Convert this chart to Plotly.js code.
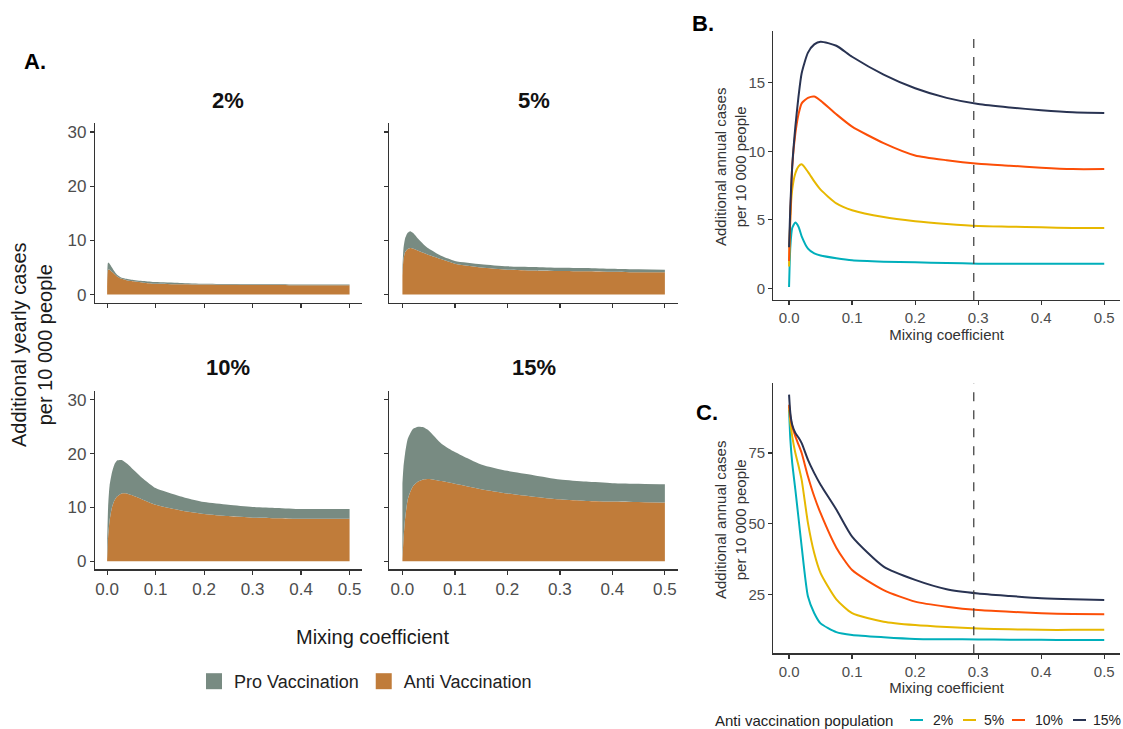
<!DOCTYPE html>
<html>
<head>
<meta charset="utf-8">
<script src="https://cdn.plot.ly/plotly-3.0.1.min.js"></script>
<style>html,body{margin:0;padding:0;background:#fff;}#chart{width:1123px;height:729px;}</style>
</head>
<body>
<div id="chart"></div>
<script>
// ---------- DATA ----------
const mixing = [0, 0.002, 0.005, 0.01, 0.015, 0.02, 0.03, 0.04, 0.05, 0.075, 0.1, 0.15, 0.2, 0.25, 0.3, 0.35, 0.4, 0.45, 0.5];

// Panel A: total (pro + anti) and anti-vaccination additional yearly cases
const facetLabels = ["2%", "5%", "10%", "15%"];
const totalA2  = [1.8, 5.9, 5.7, 5.0, 4.3, 3.7, 3.1, 2.9, 2.75, 2.5, 2.3, 2.15, 2.0, 1.95, 1.9, 1.9, 1.85, 1.85, 1.85];
const antiA2   = [1.5, 4.6, 4.6, 4.2, 3.8, 3.4, 2.9, 2.65, 2.5, 2.2, 2.0, 1.9, 1.85, 1.8, 1.75, 1.75, 1.7, 1.7, 1.7];
const totalA5  = [4.9, 8.5, 10.3, 11.4, 11.7, 11.4, 10.3, 9.3, 8.5, 7.1, 6.2, 5.6, 5.2, 5.1, 4.95, 4.9, 4.75, 4.65, 4.6];
const antiA5   = [3.5, 6.5, 7.8, 8.4, 8.6, 8.5, 8.1, 7.7, 7.3, 6.5, 5.7, 5.0, 4.6, 4.45, 4.35, 4.3, 4.2, 4.1, 4.1];
const totalA10 = [3.5, 10.0, 14.0, 16.5, 18.0, 18.7, 18.8, 18.2, 17.4, 15.3, 13.6, 12.1, 11.0, 10.5, 10.1, 9.9, 9.7, 9.7, 9.7];
const antiA10  = [0.3, 4.5, 7.5, 10.0, 11.3, 12.0, 12.6, 12.6, 12.3, 11.4, 10.5, 9.5, 8.8, 8.4, 8.1, 8.0, 7.9, 7.9, 7.9];
const totalA15 = [14.5, 17.5, 20.0, 22.7, 23.8, 24.6, 25.0, 24.9, 24.3, 21.8, 20.3, 18.0, 16.8, 16.0, 15.2, 14.8, 14.5, 14.4, 14.3];
const antiA15  = [0.5, 4.0, 7.8, 11.4, 12.9, 13.9, 14.8, 15.2, 15.3, 14.9, 14.4, 13.4, 12.6, 12.0, 11.5, 11.2, 11.1, 11.0, 10.9];
const groupNames = ["Pro Vaccination", "Anti Vaccination"];

// Panel B: additional annual cases per 10 000 people
const seriesNames = ["2%", "5%", "10%", "15%"];
const B2  = [0.1, 3.0, 4.4, 4.8, 4.5, 3.8, 2.9, 2.55, 2.4, 2.2, 2.05, 1.95, 1.9, 1.85, 1.8, 1.8, 1.8, 1.8, 1.8];
const B5  = [1.6, 5.2, 7.2, 8.4, 8.9, 9.05, 8.5, 7.8, 7.2, 6.2, 5.7, 5.2, 4.9, 4.7, 4.55, 4.5, 4.45, 4.4, 4.4];
const B10 = [2.0, 5.2, 8.9, 11.3, 12.7, 13.5, 13.9, 14.0, 13.7, 12.7, 11.8, 10.6, 9.7, 9.35, 9.1, 8.95, 8.8, 8.7, 8.7];
const B15 = [3.0, 6.0, 8.9, 11.8, 14.0, 15.7, 17.2, 17.8, 18.0, 17.7, 16.9, 15.6, 14.6, 13.9, 13.45, 13.2, 13.0, 12.85, 12.8];

// Panel C
const C2  = [90.4, 80.0, 71.5, 62.0, 52.0, 41.9, 24.2, 18.3, 14.7, 11.6, 10.6, 9.8, 9.2, 9.1, 9.0, 8.9, 8.9, 8.8, 8.8];
const C5  = [91.5, 86.0, 80.9, 75.0, 70.5, 65.5, 50.2, 39.5, 32.5, 23.2, 18.3, 15.3, 14.1, 13.4, 12.9, 12.6, 12.4, 12.4, 12.4];
const C10 = [92.1, 88.0, 84.5, 80.9, 78.0, 75.0, 66.7, 59.6, 53.7, 41.5, 33.6, 26.5, 22.4, 20.6, 19.4, 18.8, 18.3, 18.0, 17.9];
const C15 = [95.7, 89.2, 85.0, 82.1, 80.5, 78.5, 72.6, 67.9, 63.8, 55.0, 45.4, 34.8, 30.1, 26.8, 25.3, 24.4, 23.6, 23.2, 23.0];

const refMixing = 0.293;
const xTicks = [0, 0.1, 0.2, 0.3, 0.4, 0.5];
const yTicksA = [0, 10, 20, 30];
const yTicksB = [0, 5, 10, 15];
const yTicksC = [25, 50, 75];

// ---------- STYLE ----------
const W = 1123, H = 729;
const colPro = "#788B82", colAnti = "#C07C3A";
const lineCols = ["#00AFBB", "#E7B800", "#FC4E07", "#293352"];
const FONT = "Liberation Sans, Arial, sans-serif";
const px = v => v / W;
const py = v => 1 - v / H;

const facetDom = [
  {x: [px(95), px(361.7)], y: [py(302.7), py(122.7)]},
  {x: [px(389.3), px(678)], y: [py(302.7), py(122.7)]},
  {x: [px(95), px(361.7)], y: [py(569.3), py(390.7)]},
  {x: [px(389.3), px(678)], y: [py(569.3), py(390.7)]}
];
const totals = [totalA2, totalA5, totalA10, totalA15];
const antis = [antiA2, antiA5, antiA10, antiA15];

const traces = [];
const layout = {
  width: W, height: H,
  margin: {l: 0, r: 0, t: 0, b: 0},
  paper_bgcolor: "#fff", plot_bgcolor: "#fff",
  font: {family: FONT, color: "#222"},
  showlegend: true,
  annotations: [], shapes: []
};

function baseAxis(extra) {
  return Object.assign({
    showgrid: false, zeroline: false, showline: true, linecolor: "#333", linewidth: 1.2,
    ticks: "outside", ticklen: 4, tickcolor: "#333", tickwidth: 1.2,
    tickfont: {family: FONT, size: 16, color: "#4d4d4d"}, fixedrange: true
  }, extra);
}

for (let i = 0; i < 4; i++) {
  const n = i + 1;
  const xa = n === 1 ? "x" : "x" + n, ya = n === 1 ? "y" : "y" + n;
  traces.push({type: "scatter", mode: "lines", x: mixing, y: antis[i], fill: "tozeroy",
    fillcolor: colAnti, line: {width: 0, color: colAnti, shape: "spline", smoothing: 0.6}, xaxis: xa, yaxis: ya, showlegend: false, hoverinfo: "skip"});
  traces.push({type: "scatter", mode: "lines", x: mixing, y: totals[i], fill: "tonexty",
    fillcolor: colPro, line: {width: 0, color: colPro, shape: "spline", smoothing: 0.6}, xaxis: xa, yaxis: ya, showlegend: false, hoverinfo: "skip"});
  const bottom = i >= 2, left = i % 2 === 0;
  layout["xaxis" + (n === 1 ? "" : n)] = baseAxis({domain: facetDom[i].x, anchor: ya, range: [-0.025, 0.525],
    tickvals: xTicks, tickformat: ".1f", showticklabels: bottom, tickfont: {family: FONT, size: 17, color: "#4d4d4d"}});
  layout["yaxis" + (n === 1 ? "" : n)] = baseAxis({domain: facetDom[i].y, anchor: xa, range: [-1.5, 31.7],
    tickvals: yTicksA, showticklabels: left, tickfont: {family: FONT, size: 17, color: "#4d4d4d"}});
  layout.annotations.push({xref: "paper", yref: "paper", x: (facetDom[i].x[0] + facetDom[i].x[1]) / 2,
    y: i < 2 ? py(100) : py(367), text: "<b>" + facetLabels[i] + "</b>", showarrow: false,
    font: {family: FONT, size: 22, color: "#111"}, xanchor: "center", yanchor: "middle"});
}

// legend entries for panel A (legend keys only)
traces.push({type: "scatter", mode: "markers", x: [null], y: [null], name: groupNames[0],
  marker: {symbol: "square", size: 20, color: colPro}, xaxis: "x", yaxis: "y", legend: "legend"});
traces.push({type: "scatter", mode: "markers", x: [null], y: [null], name: groupNames[1],
  marker: {symbol: "square", size: 20, color: colAnti}, xaxis: "x", yaxis: "y", legend: "legend"});

// Panels B and C
const Bs = [B2, B5, B10, B15], Cs = [C2, C5, C10, C15];
for (let k = 0; k < 4; k++) {
  traces.push({type: "scatter", mode: "lines", x: mixing, y: Bs[k], name: seriesNames[k],
    line: {color: lineCols[k], width: 2, shape: "spline", smoothing: 0.6}, xaxis: "x5", yaxis: "y5", showlegend: false});
}
for (let k = 0; k < 4; k++) {
  traces.push({type: "scatter", mode: "lines", x: mixing, y: Cs[k], name: seriesNames[k],
    line: {color: lineCols[k], width: 2, shape: "spline", smoothing: 0.6}, xaxis: "x6", yaxis: "y6", showlegend: false});
}
const smallTick = {family: FONT, size: 15, color: "#4d4d4d"};
layout.xaxis5 = baseAxis({domain: [px(773.3), px(1120)], anchor: "y5", range: [-0.025, 0.525], tickvals: xTicks, tickformat: ".1f",
  tickfont: smallTick, title: {text: "Mixing coefficient", font: {family: FONT, size: 15, color: "#333"}, standoff: 2}});
layout.yaxis5 = baseAxis({domain: [py(300), py(30.7)], anchor: "x5", range: [-0.85, 18.8], tickvals: yTicksB, tickfont: smallTick});
layout.xaxis6 = baseAxis({domain: [px(773.3), px(1120)], anchor: "y6", range: [-0.025, 0.525], tickvals: xTicks, tickformat: ".1f",
  tickfont: smallTick, title: {text: "Mixing coefficient", font: {family: FONT, size: 15, color: "#333"}, standoff: 0}});
layout.yaxis6 = baseAxis({domain: [py(653.3), py(383)], anchor: "x6", range: [4.1, 99.8], tickvals: yTicksC, tickfont: smallTick});

["5", "6"].forEach(s => {
  layout.shapes.push({type: "line", xref: "x" + s, yref: "y" + s + " domain", x0: refMixing, x1: refMixing, y0: 0, y1: 1,
    line: {color: "#444", width: 1.3, dash: "dash"}});
});

// y titles of B and C
[[167, "y5"], [520, "y6"]].forEach(([cy]) => {
  layout.annotations.push({xref: "paper", yref: "paper", x: px(730), y: py(cy), text: "Additional annual cases<br>per 10 000 people",
    textangle: -90, showarrow: false, xanchor: "center", yanchor: "middle", font: {family: FONT, size: 15, color: "#333"}});
});

// Legend for panel A
layout.legend = {orientation: "h", traceorder: "normal", x: px(194), xanchor: "left", y: py(663), yanchor: "top",
  font: {family: FONT, size: 18, color: "#222"}, bgcolor: "rgba(0,0,0,0)", itemclick: false, itemdoubleclick: false};

// Legend for panels B/C (drawn as keys + labels)
const legC = {titleX: 713, y: 720, lineX: [910, 963, 1012, 1073], lineLen: 13, textX: [931, 982, 1033, 1091]};
layout.annotations.push({xref: "paper", yref: "paper", x: px(legC.titleX), y: py(legC.y), text: "Anti vaccination population",
  showarrow: false, xanchor: "left", yanchor: "middle", font: {family: FONT, size: 15, color: "#222"}});
for (let k = 0; k < 4; k++) {
  layout.shapes.push({type: "line", xref: "paper", yref: "paper", x0: px(legC.lineX[k]), x1: px(legC.lineX[k] + legC.lineLen),
    y0: py(legC.y), y1: py(legC.y), line: {color: lineCols[k], width: 2}});
  layout.annotations.push({xref: "paper", yref: "paper", x: px(legC.textX[k]), y: py(legC.y), text: seriesNames[k],
    showarrow: false, xanchor: "left", yanchor: "middle", font: {family: FONT, size: 14, color: "#222"}});
}

// Text annotations
layout.annotations.push(
  {xref: "paper", yref: "paper", x: px(32), y: py(345), text: "Additional yearly cases<br>per 10 000 people",
    textangle: -90, showarrow: false, font: {family: FONT, size: 20, color: "#1a1a1a"}, xanchor: "center", yanchor: "middle"},
  {xref: "paper", yref: "paper", x: px(372), y: py(637), text: "Mixing coefficient", showarrow: false,
    font: {family: FONT, size: 20, color: "#1a1a1a"}, xanchor: "center", yanchor: "middle"},
  {xref: "paper", yref: "paper", x: px(22), y: py(62), text: "<b>A.</b>", showarrow: false,
    font: {family: FONT, size: 22, color: "#000"}, xanchor: "left", yanchor: "middle"},
  {xref: "paper", yref: "paper", x: px(690), y: py(24), text: "<b>B.</b>", showarrow: false,
    font: {family: FONT, size: 22, color: "#000"}, xanchor: "left", yanchor: "middle"},
  {xref: "paper", yref: "paper", x: px(694), y: py(412), text: "<b>C.</b>", showarrow: false,
    font: {family: FONT, size: 22, color: "#000"}, xanchor: "left", yanchor: "middle"}
);

Plotly.newPlot("chart", traces, layout, {displayModeBar: false, staticPlot: true});
</script>
</body>
</html>
